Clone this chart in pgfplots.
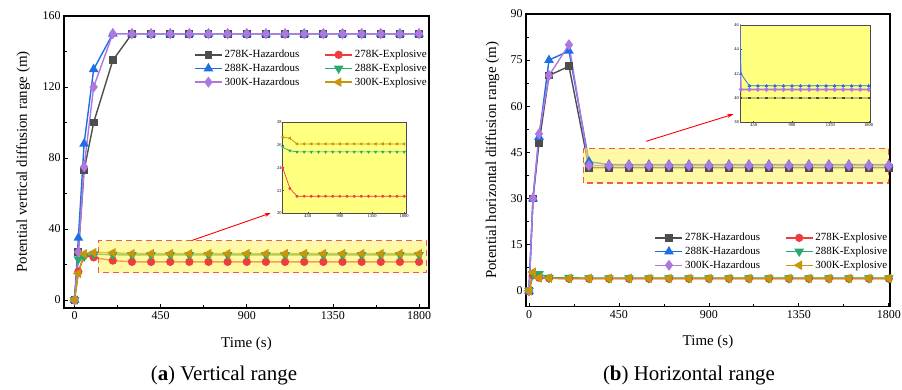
\documentclass[border=0pt]{standalone}
\usepackage{fontspec}
\setmainfont{Liberation Serif}
\usepackage{pgfplots}
\pgfplotsset{compat=1.18}
\usepackage{pgfplotstable}
\usetikzlibrary{arrows.meta}

\definecolor{c278h}{RGB}{77,77,77}
\definecolor{c288h}{RGB}{30,110,230}
\definecolor{c300h}{RGB}{175,120,225}
\definecolor{c278e}{RGB}{240,60,60}
\definecolor{c288e}{RGB}{40,170,110}
\definecolor{c300e}{RGB}{200,150,10}
\definecolor{hlyellow}{RGB}{255,242,90}
\definecolor{hlred}{RGB}{240,90,80}
\definecolor{insetyellow}{RGB}{255,255,128}

\pgfplotstableread{
t h278 h288 h300 e278 e288 e300
0 0 0 0 0 0 0
20 27 35 27 16 23 15
50 73 88 75 25 24.5 26
100 100 130 120 24 25.8 26.7
200 135 150 150 22.2 25.5 26.6
300 150 150 150 21.5 25.4 26.1
400 150 150 150 21.5 25.4 26.1
500 150 150 150 21.5 25.4 26.1
600 150 150 150 21.5 25.4 26.1
700 150 150 150 21.5 25.4 26.1
800 150 150 150 21.5 25.4 26.1
900 150 150 150 21.5 25.4 26.1
1000 150 150 150 21.5 25.4 26.1
1100 150 150 150 21.5 25.4 26.1
1200 150 150 150 21.5 25.4 26.1
1300 150 150 150 21.5 25.4 26.1
1400 150 150 150 21.5 25.4 26.1
1500 150 150 150 21.5 25.4 26.1
1600 150 150 150 21.5 25.4 26.1
1700 150 150 150 21.5 25.4 26.1
1800 150 150 150 21.5 25.4 26.1
}\vertdata

\pgfplotstableread{
t e278 e288 e300
100 24 25.8 26.7
200 22.2 25.5 26.6
300 21.5 25.4 26.1
400 21.5 25.4 26.1
500 21.5 25.4 26.1
600 21.5 25.4 26.1
700 21.5 25.4 26.1
800 21.5 25.4 26.1
900 21.5 25.4 26.1
1000 21.5 25.4 26.1
1100 21.5 25.4 26.1
1200 21.5 25.4 26.1
1300 21.5 25.4 26.1
1400 21.5 25.4 26.1
1500 21.5 25.4 26.1
1600 21.5 25.4 26.1
1700 21.5 25.4 26.1
1800 21.5 25.4 26.1
}\vertinset

\pgfplotstableread{
t h278 h288 h300 e278 e288 e300
0 0 0 0 0 0 0
20 30 30 30 5 5.5 6
50 48 50 51 4.2 5.5 4.2
100 70 75 70 4 4.2 4.1
200 73 78 80 3.9 4.2 4
300 40 42 40.7 3.9 4.1 4
400 40 41 40.7 3.9 4.1 4
500 40 41 40.7 3.9 4.1 4
600 40 41 40.7 3.9 4.1 4
700 40 41 40.7 3.9 4.1 4
800 40 41 40.7 3.9 4.1 4
900 40 41 40.7 3.9 4.1 4
1000 40 41 40.7 3.9 4.1 4
1100 40 41 40.7 3.9 4.1 4
1200 40 41 40.7 3.9 4.1 4
1300 40 41 40.7 3.9 4.1 4
1400 40 41 40.7 3.9 4.1 4
1500 40 41 40.7 3.9 4.1 4
1600 40 41 40.7 3.9 4.1 4
1700 40 41 40.7 3.9 4.1 4
1800 40 41 40.7 3.9 4.1 4
}\horzdata

\pgfplotstableread{
t h278 h288 h300
200 73 78 80
300 40 42 40.7
400 40 41 40.7
500 40 41 40.7
600 40 41 40.7
700 40 41 40.7
800 40 41 40.7
900 40 41 40.7
1000 40 41 40.7
1100 40 41 40.7
1200 40 41 40.7
1300 40 41 40.7
1400 40 41 40.7
1500 40 41 40.7
1600 40 41 40.7
1700 40 41 40.7
1800 40 41 40.7
}\horzinset

\pgfplotsset{
  mainax/.style={
    scale only axis,
    axis line style={line width=1.1bp},
    tick align=inside,
    xtick pos=bottom, ytick pos=left,
    minor x tick num=1, minor y tick num=1,
    major tick length=4bp, minor tick length=2.5bp,
    every tick/.style={black, line width=0.8bp},
    tick label style={font=\fontsize{12}{14}\selectfont},
    label style={font=\fontsize{15}{17}\selectfont},
    /pgf/number format/assume math mode=true,
    /pgf/number format/1000 sep={},
    xmin=-55, xmax=1852,
    xtick={0,450,900,1350,1800},
    xlabel={Time (s)},
    legend columns=2,
    legend cell align=left,
    legend image code/.code={\draw[mark repeat=2,mark phase=2] plot coordinates {(0bp,0bp) (13.5bp,0bp) (27bp,0bp)};},
    legend style={draw=none, fill=none, anchor=north west,
      font=\fontsize{11}{13}\selectfont,
      /tikz/every even column/.append style={column sep=23bp},
      row sep=0.6bp},
  },
  insetax/.style={
    scale only axis,
    axis background/.style={fill=insetyellow},
    axis line style={draw=black!70, line width=0.8bp},
    tick align=inside,
    xtick pos=bottom, ytick pos=left,
    major tick length=1.5bp,
    every tick/.style={black!70, line width=0.4bp},
    tick label style={font=\fontsize{4.5}{5}\selectfont, inner sep=1bp},
    /pgf/number format/assume math mode=true,
    /pgf/number format/1000 sep={},
    xtick={450,900,1350,1800},
  },
  sh278/.style={color=c278h, line width=1.4bp, mark=square*, mark size=3.2bp},
  sh288/.style={color=c288h, line width=1.4bp, mark=triangle*, mark size=4.2bp},
  sh300/.style={color=c300h, line width=1.4bp, mark=diamond*, mark size=4.4bp},
  se278/.style={color=c278e, line width=1.4bp, mark=*, mark size=3.4bp},
  se288/.style={color=c288e, line width=1.4bp, mark=triangle*, mark size=4.2bp, mark options={rotate=180}},
  se300/.style={color=c300e, line width=1.4bp, mark=triangle*, mark size=4.2bp, mark options={rotate=90}},
}

\begin{document}
\begin{tikzpicture}
\useasboundingbox (0,0) rectangle (902bp,390bp);

% ---------------- (a) vertical ----------------
\begin{axis}[mainax,
  at={(64bp,82bp)}, anchor=south west,
  width=365bp, height=292bp,
  ymin=-4.5, ymax=160,
  ytick={0,40,80,120,160},
  ylabel={Potential vertical diffusion range (m)},
  ylabel style={at={(axis description cs:-0.112,0.5)}, anchor=center},
  xlabel style={at={(axis description cs:0.5,-0.123)}, anchor=center},
  legend style={at={(axis description cs:0.348,0.897)}},
]
\addplot[sh278] table[x=t,y=h278] {\vertdata};
\addlegendentry{278K-Hazardous}
\addplot[se278] table[x=t,y=e278] {\vertdata};
\addlegendentry{278K-Explosive}
\addplot[sh288] table[x=t,y=h288] {\vertdata};
\addlegendentry{288K-Hazardous}
\addplot[se288] table[x=t,y=e288] {\vertdata};
\addlegendentry{288K-Explosive}
\addplot[sh300] table[x=t,y=h300] {\vertdata};
\addlegendentry{300K-Hazardous}
\addplot[se300] table[x=t,y=e300] {\vertdata};
\addlegendentry{300K-Explosive}
\fill[hlyellow, opacity=0.55] (axis cs:125,15.4) rectangle (axis cs:1840,33.5);
\draw[hlred, line width=1.5bp, dash pattern=on 6bp off 4bp] (axis cs:125,15.4) rectangle (axis cs:1840,33.5);
\draw[red, line width=0.9bp, -{Stealth[length=6bp,width=4bp]}] (axis cs:612,33.5) -- (axis cs:1025,49);
\end{axis}

\begin{axis}[insetax,
  at={(282.7bp,176.7bp)}, anchor=south west,
  width=124bp, height=91bp,
  xmin=100, xmax=1835, ymin=20, ymax=28,
  ytick={20,22,24,26,28},
]
\addplot[color=c278e, line width=0.7bp, mark=*, mark size=1.1bp] table[x=t,y=e278] {\vertinset};
\addplot[color=c288e, line width=0.7bp, mark=triangle*, mark size=1.3bp, mark options={rotate=180}] table[x=t,y=e288] {\vertinset};
\addplot[color=c300e, line width=0.7bp, mark=triangle*, mark size=1.3bp, mark options={rotate=90}] table[x=t,y=e300] {\vertinset};
\end{axis}

% ---------------- (b) horizontal ----------------
\begin{axis}[mainax,
  at={(526bp,83.3bp)}, anchor=south west,
  width=364bp, height=292.7bp,
  xmin=-15, xmax=1806,
  ymin=-5.2, ymax=90,
  ytick={0,15,30,45,60,75,90},
  ylabel={Potential horizontal diffusion range (m)},
  ylabel style={at={(axis description cs:-0.092,0.5)}, anchor=center},
  xlabel style={at={(axis description cs:0.5,-0.12)}, anchor=center},
  legend style={at={(axis description cs:0.345,0.265)}},
]
\addplot[sh278] table[x=t,y=h278] {\horzdata};
\addlegendentry{278K-Hazardous}
\addplot[se278] table[x=t,y=e278] {\horzdata};
\addlegendentry{278K-Explosive}
\addplot[sh288] table[x=t,y=h288] {\horzdata};
\addlegendentry{288K-Hazardous}
\addplot[se288] table[x=t,y=e288] {\horzdata};
\addlegendentry{288K-Explosive}
\addplot[sh300] table[x=t,y=h300] {\horzdata};
\addlegendentry{300K-Hazardous}
\addplot[se300] table[x=t,y=e300] {\horzdata};
\addlegendentry{300K-Explosive}
\fill[hlyellow, opacity=0.55] (axis cs:272,35.1) rectangle (axis cs:1799,46.3);
\draw[hlred, line width=1.5bp, dash pattern=on 6bp off 4bp] (axis cs:272,35.1) rectangle (axis cs:1799,46.3);
\draw[red, line width=0.9bp, -{Stealth[length=6bp,width=4bp]}] (axis cs:586,48.6) -- (axis cs:1022,57.4);
\end{axis}

\begin{axis}[insetax,
  at={(740bp,267.7bp)}, anchor=south west,
  width=130bp, height=97.3bp,
  xmin=290, xmax=1815, ymin=38, ymax=46,
  ytick={38,40,42,44,46},
]
\addplot[color=c278h, line width=0.7bp, mark=square*, mark size=0.8bp] table[x=t,y=h278] {\horzinset};
\addplot[color=c300h, line width=1.6bp, mark=diamond*, mark size=1.4bp] table[x=t,y=h300] {\horzinset};
\addplot[color=c288h, line width=0.7bp, mark=triangle*, mark size=1.3bp] table[x=t,y=h288] {\horzinset};
\end{axis}

\node[font=\fontsize{21}{24}\selectfont] at (224bp,15bp) {(\textbf{a}) Vertical range};
\node[font=\fontsize{21}{24}\selectfont] at (689bp,15bp) {(\textbf{b}) Horizontal range};
\end{tikzpicture}
\end{document}
